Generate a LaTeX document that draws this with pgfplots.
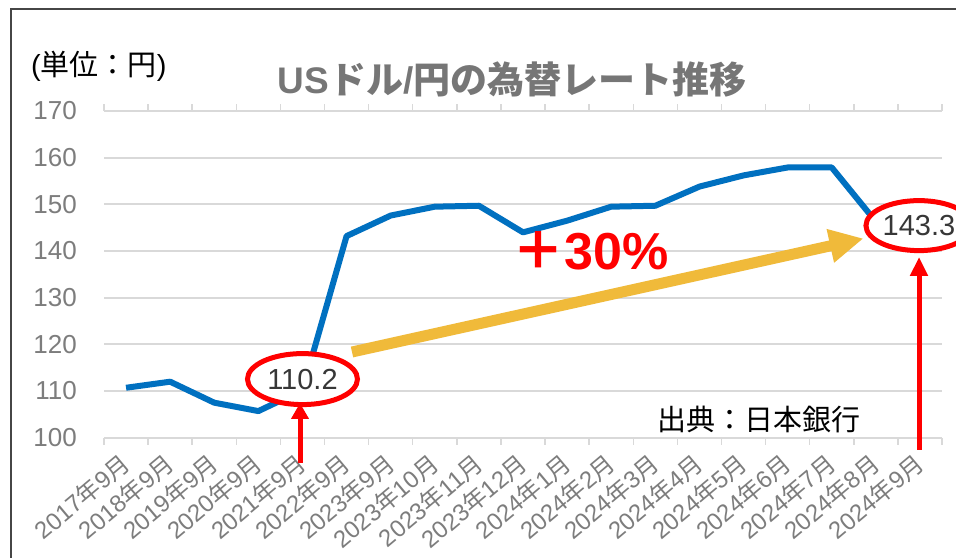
\documentclass[border=0pt]{standalone}
\usepackage{fontspec}
\setmainfont{Liberation Sans}
\newfontfamily\jp{Noto Sans CJK JP}
\usepackage{pgfplots}
\pgfplotsset{compat=1.18}
\usetikzlibrary{arrows.meta,shapes.geometric}
\definecolor{lineblue}{HTML}{0070C0}
\definecolor{gold}{RGB}{240,186,58}
\definecolor{ticklab}{RGB}{125,125,125}
\definecolor{gridc}{RGB}{217,217,217}
\definecolor{titlec}{RGB}{118,118,118}
\definecolor{framec}{RGB}{70,70,70}
\definecolor{labc}{RGB}{55,55,55}
\newcommand\fs[1]{\fontsize{#1}{#1}\selectfont}
\newcommand\ym[2]{#1{\jp 年}#2{\jp 月}}
\begin{document}
\begin{tikzpicture}[x=1pt,y=1pt]
\useasboundingbox (0,0) rectangle (956,557);
\clip (0,0) rectangle (956,557);
\fill[white] (0,0) rectangle (956,557);
\begin{axis}[
  at={(104pt,119.3pt)}, anchor=south west,
  scale only axis, width=838pt, height=326.7pt,
  xmin=-0.5, xmax=18.5, ymin=100, ymax=170,
  ytick={100,110,...,170},
  xtick={0,...,18},
  xticklabels={\ym{2017}{9},\ym{2018}{9},\ym{2019}{9},\ym{2020}{9},\ym{2021}{9},\ym{2022}{9},\ym{2023}{9},\ym{2023}{10},\ym{2023}{11},\ym{2023}{12},\ym{2024}{1},\ym{2024}{2},\ym{2024}{3},\ym{2024}{4},\ym{2024}{5},\ym{2024}{6},\ym{2024}{7},\ym{2024}{8},\ym{2024}{9}},
  minor xtick={-0.5,0.5,...,18.5},
  axis line style={draw=none},
  major tick length=0pt,
  minor tick length=7pt,
  tick align=outside,
  minor tick style={draw=gridc, line width=1.5pt},
  ymajorgrids, grid style={draw=gridc, line width=1.75pt},
  /pgf/number format/assume math mode=true,
  yticklabel style={font=\fs{26}, text=ticklab, anchor=east, inner sep=0pt},
  yticklabel shift=27pt,
  xticklabel style={font=\fs{24}, text=ticklab, anchor=east, rotate=40, inner sep=0pt},
  xticklabel shift=22pt,
  clip=false,
]
\addplot[lineblue, line width=6pt, line join=round] coordinates {
(0,110.7) (1,112.0) (2,107.5) (3,105.7) (4,110.2) (5,143.2) (6,147.6) (7,149.5) (8,149.7) (9,144.0)
(10,146.5) (11,149.5) (12,149.7) (13,153.8) (14,156.2) (15,157.9) (16,157.9) (17,146.3) (18,143.3)};
\node[ellipse, draw=red, line width=5pt, fill=white, minimum width=110pt, minimum height=51pt, inner sep=0pt, font=\fs{29}, text=labc] at ([yshift=11pt]axis cs:4,110.2) {110.2};
\node[ellipse, draw=red, line width=5pt, fill=white, minimum width=106pt, minimum height=50pt, inner sep=0pt, font=\fs{29}, text=labc] at ([yshift=10pt,xshift=-1pt]axis cs:18,143.3) {143.3};
\end{axis}
% arrows
\draw[red, line width=5pt, -{Triangle[width=17pt,length=16pt]}] (300,94) -- (300,154);
\draw[red, line width=5pt, -{Triangle[width=17pt,length=19pt]}] (919,107) -- (919,300);
\draw[gold, line width=11pt, -{Triangle[width=32pt,length=34pt]}] (352,205) -- (863.5,318.5);
\node[anchor=base west, inner sep=0pt, text=red, font=\fs{52}\bfseries] at (512,287) {{\jp ＋}30\%};
% title and notes
\node[anchor=base, inner sep=0pt, text=titlec, font=\fs{37}\bfseries] at (512,463) {US{\jp ドル}/{\jp 円の為替レート推移}};
\node[anchor=west, inner sep=0pt, font=\fs{29}] at (31,490.5) {({\jp 単位：円})};
\node[anchor=west, inner sep=0pt, font=\fs{29}] at (657,138) {\jp 出典：日本銀行};
% frame
\draw[framec, line width=2.5pt] (11,-10) -- (11,548) -- (970,548);
\end{tikzpicture}
\end{document}
